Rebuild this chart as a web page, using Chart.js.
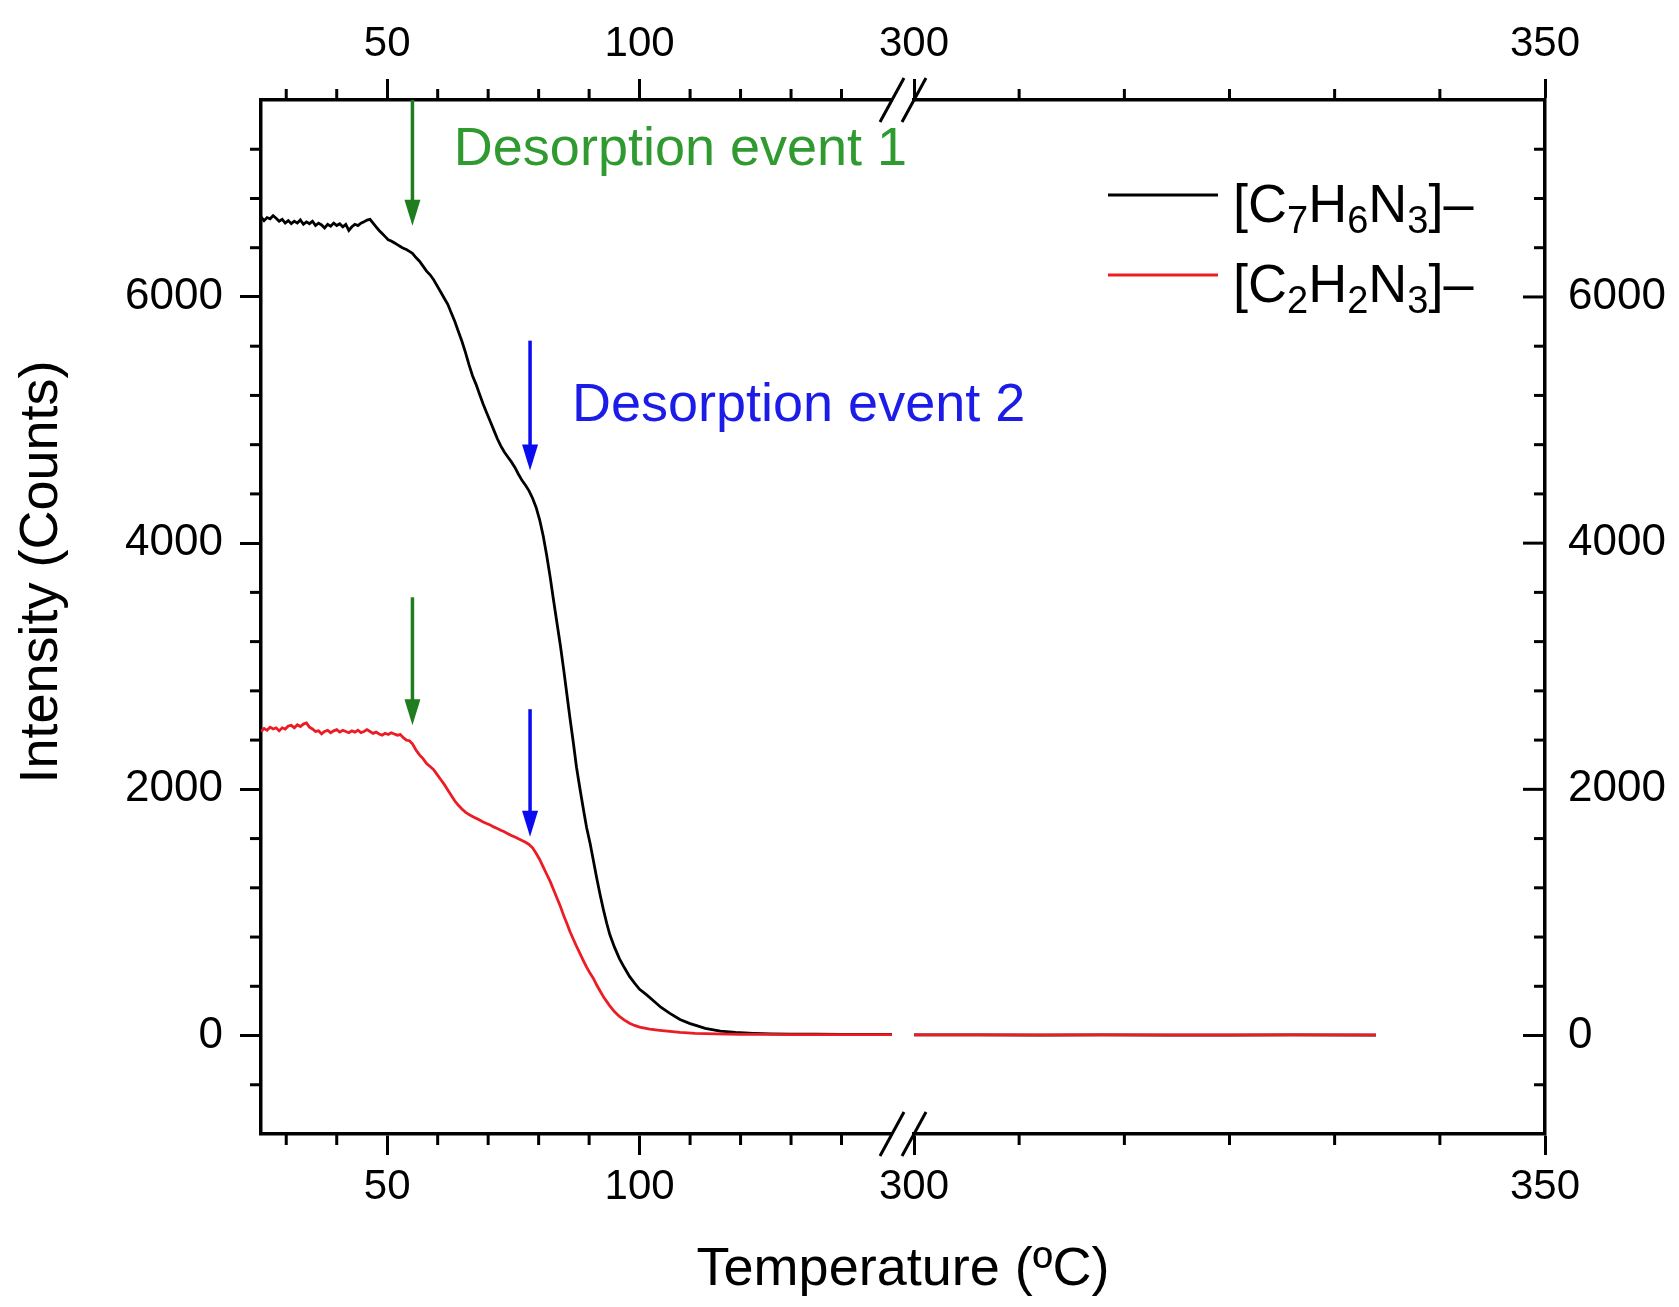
<!DOCTYPE html>
<html>
<head>
<meta charset="utf-8">
<script src="https://cdn.jsdelivr.net/npm/chart.js@4.4.1/dist/chart.umd.min.js"></script>
<style>
  html, body { margin: 0; padding: 0; background: #ffffff; overflow: hidden; }
  canvas { display: block; }
</style>
</head>
<body>
<canvas id="c" width="1679" height="1307"></canvas>
<script>
// ---------------- DATA ----------------
const X_TITLE = 'Temperature (ºC)';
const Y_TITLE = 'Intensity (Counts)';
const SERIES_LABELS = ['[C7H6N3]–', '[C2H2N3]–'];

const X_LOW_RANGE = [25, 150];
const X_HIGH_RANGE = [300, 350];
const Y_RANGE = [-800, 7600];

const X_LOW_MAJOR = [50, 100];
const X_LOW_MINOR = [30, 40, 60, 70, 80, 90, 110, 120, 130, 140];
const X_HIGH_MAJOR = [300, 350];
const X_HIGH_MINOR = [308.33, 316.67, 325, 333.33, 341.67];
const Y_MAJOR = [0, 2000, 4000, 6000];
const Y_MINOR = [-400, 400, 800, 1200, 1600, 2400, 2800, 3200, 3600, 4400, 4800, 5200, 5600, 6400, 6800, 7200];

// [C7H6N3]- , low-temperature segment
const T_C7_LOW = [25.0,25.6,26.2,26.8,27.4,28.0,28.6,29.2,29.8,30.4,31.0,31.6,32.2,32.8,33.4,34.0,34.6,35.2,35.8,36.4,37.0,37.6,38.2,38.8,39.4,40.0,40.6,41.2,41.8,42.4,43.0,43.6,44.2,44.8,45.4,46.0,46.6,47.2,47.8,48.4,49.0,49.6,50.2,50.8,51.4,52.0,52.6,53.2,53.8,54.4,55.0,
  55.7,56.4,57.1,57.8,58.5,59.2,59.9,60.6,61.3,62.0,62.7,63.4,64.1,64.8,65.5,66.2,66.9,67.6,68.3,69.0,69.7,70.4,71.1,71.8,72.5,73.2,73.9,74.6,75.3,76.0,76.7,77.4,78.1,78.8,79.5,80.2,80.9,81.6,82.3,82.9,83.6,84.3,85.0,85.6,86.2,86.9,87.5,88.2,88.9,89.5,90.2,90.9,91.5,92.2,92.9,93.5,94.1,95.0,96.0,97.0,98.0,99.0,100.0,101.4,102.8,104.2,106.0,108.0,110.0,111.3,113.0,116.0,119.0,122.5,126.0,130.0,135.0,140.0,145.0,150.0];
const I_C7_LOW = [6650,6620,6645,6635,6660,6640,6615,6630,6600,6620,6595,6615,6600,6625,6590,6610,6595,6615,6580,6600,6585,6560,6590,6575,6600,6580,6595,6570,6590,6540,6570,6590,6580,6600,6610,6625,6630,6600,6570,6540,6515,6490,6465,6455,6440,6425,6410,6395,6385,6370,6355,
  6320,6290,6250,6210,6180,6140,6090,6040,5990,5940,5870,5800,5720,5640,5550,5450,5360,5290,5210,5130,5060,4990,4920,4850,4790,4740,4700,4660,4615,4560,4510,4470,4425,4365,4290,4190,4060,3900,3720,3550,3360,3170,2960,2770,2580,2370,2180,2000,1830,1690,1560,1410,1280,1140,1010,910,820,720,625,550,480,425,375,330,280,230,180,130,97,80,58,36,25,18,14,12,11,10,9,9];

// [C2H2N3]- , low-temperature segment
const T_C2_LOW = [25.0,25.6,26.2,26.8,27.4,28.0,28.6,29.2,29.8,30.4,31.0,31.6,32.2,32.8,33.4,34.0,34.6,35.2,35.8,36.4,37.0,37.6,38.2,38.8,39.4,40.0,40.6,41.2,41.8,42.4,43.0,43.6,44.2,44.8,45.4,46.0,46.6,47.2,47.8,48.4,49.0,49.6,50.2,50.8,51.4,52.0,52.6,53.2,53.8,54.4,55.0,
  55.7,56.4,57.1,57.8,58.5,59.2,59.9,60.6,61.3,62.0,62.7,63.4,64.1,64.8,65.5,66.2,66.9,67.6,68.3,69.0,69.7,70.4,71.1,71.8,72.5,73.2,73.9,74.6,75.3,76.0,76.7,77.4,78.1,78.8,79.5,80.2,80.9,81.6,82.3,83.0,83.6,84.3,85.0,85.6,86.2,86.9,87.5,88.2,88.9,89.5,90.2,90.9,91.5,92.2,92.9,93.5,94.1,95.0,96.0,97.0,98.0,99.0,100.0,102.0,104.0,106.0,108.0,111.0,115.0,120.0,125.0,130.0,140.0,150.0];
const I_C2_LOW = [2470,2495,2480,2505,2490,2500,2475,2500,2490,2515,2520,2500,2525,2510,2530,2540,2505,2490,2470,2475,2450,2470,2480,2460,2475,2485,2465,2480,2470,2460,2475,2465,2480,2460,2470,2485,2470,2455,2465,2450,2440,2455,2445,2460,2450,2440,2445,2420,2400,2395,2370,
  2320,2280,2250,2210,2185,2160,2120,2080,2040,1995,1950,1905,1870,1840,1815,1795,1780,1765,1750,1735,1722,1710,1695,1682,1668,1655,1640,1625,1612,1598,1585,1570,1552,1525,1480,1430,1370,1310,1250,1180,1120,1050,970,910,845,780,725,665,605,555,505,460,410,360,310,275,240,195,155,125,100,82,68,52,42,33,25,18,13,10,9,8,7,7];

// high-temperature segment (after the axis break)
const T_HIGH = [300, 305, 310, 315, 320, 325, 330, 336.6];
const I_C7_HIGH = [5, 5, 4, 5, 4, 4, 5, 4];
const I_C2_HIGH = [6, 5, 6, 5, 5, 6, 5, 5];

// annotations (data coordinates)
const EVENT_LABELS = ['Desorption event 1', 'Desorption event 2'];
const EVENT_TEXT_T = [63.2, 86.6];
const EVENT_TEXT_I = [7075, 4992];
const ARROW_T = [55.0, 78.3, 55.0, 78.3];
const ARROW_FROM_I = [7600, 5645, 3560, 2651];
const ARROW_TO_I = [6579, 4590, 2520, 1614];
const ARROW_EVENT = [0, 1, 0, 1];

// ---------------- STYLE ----------------
const FONT_FAMILY = "'Liberation Sans', Arial, Helvetica, sans-serif";
const COL = {
  c7: '#000000', c2: '#ec1c24',
  eventText: ['#2f9a2f', '#1c1ce8'],
  eventArrow: ['#1f7d1f', '#0b0bf0']
};
const X_TICK_FONT = { family: FONT_FAMILY, size: 42 };
const Y_TICK_FONT = { family: FONT_FAMILY, size: 44 };
const MAJOR_LEN = 21, MINOR_LEN = 11, TICK_W = 3, AXIS_W = 3.5;
const SEG_WEIGHTS = [631, 22, 631];

function toXY(xs, ys) { return xs.map((x, i) => ({ x: x, y: ys[i] })); }

function segAxis(pos, stack, weight, range, major, height, pad) {
  return {
    type: 'linear', position: pos, stack: stack, stackWeight: weight,
    min: range[0], max: range[1],
    afterBuildTicks: s => { s.ticks = major.map(v => ({ value: v })); },
    afterFit: s => { s.height = height; },
    ticks: { display: true, autoSkip: false, maxRotation: 0, padding: pad, font: X_TICK_FONT, color: '#000', callback: v => String(v) },
    grid: { display: true, drawOnChartArea: false, drawTicks: true, tickLength: MAJOR_LEN, tickWidth: TICK_W, tickColor: '#000' },
    border: { display: true, width: AXIS_W, color: '#000' }
  };
}
function gapAxis(pos, stack, weight, height) {
  return {
    type: 'linear', position: pos, stack: stack, stackWeight: weight, min: 0, max: 1,
    afterFit: s => { s.height = height; },
    ticks: { display: false }, grid: { display: false }, border: { display: false }
  };
}

function drawFormula(ctx, text, x, y, size, subSize, subDy) {
  const runs = [];
  for (const ch of text) {
    const sub = /[0-9]/.test(ch);
    if (runs.length && runs[runs.length - 1].sub === sub) runs[runs.length - 1].t += ch;
    else runs.push({ t: ch, sub: sub });
  }
  let cx = x;
  for (const r of runs) {
    ctx.font = (r.sub ? subSize : size) + 'px ' + FONT_FAMILY;
    ctx.fillText(r.t, cx, y + (r.sub ? subDy : 0));
    cx += ctx.measureText(r.t).width;
  }
}

const decorPlugin = {
  id: 'decor',
  afterDraw(chart) {
    const { ctx, chartArea: ca, scales } = chart;
    const xL = scales.xL, xR = scales.xR, y = scales.y;
    ctx.save();
    ctx.lineCap = 'butt';
    ctx.strokeStyle = '#000';
    ctx.lineWidth = TICK_W;
    const seg = (x1, y1, x2, y2) => { ctx.beginPath(); ctx.moveTo(x1, y1); ctx.lineTo(x2, y2); ctx.stroke(); };
    // minor ticks (outward on left/top/bottom, inward on right)
    for (const v of X_LOW_MINOR) { const p = xL.getPixelForValue(v); seg(p, ca.bottom, p, ca.bottom + MINOR_LEN); seg(p, ca.top, p, ca.top - MINOR_LEN); }
    for (const v of X_HIGH_MINOR) { const p = xR.getPixelForValue(v); seg(p, ca.bottom, p, ca.bottom + MINOR_LEN); seg(p, ca.top, p, ca.top - MINOR_LEN); }
    for (const v of Y_MINOR) { const p = y.getPixelForValue(v); seg(ca.left, p, ca.left - MINOR_LEN, p); seg(ca.right, p, ca.right - MINOR_LEN, p); }
    for (const v of Y_MAJOR) { const p = scales.y2.getPixelForValue(v); seg(ca.right, p, ca.right - MAJOR_LEN - 1, p); }

    // axis break marks
    for (const ay of [ca.top, ca.bottom]) {
      for (const bx of [xL.right, xR.left]) {
        seg(bx - 12, ay + 22, bx + 12, ay - 22);
      }
    }

    // y axis title
    ctx.save();
    ctx.fillStyle = '#000';
    ctx.font = '54px ' + FONT_FAMILY;
    ctx.textAlign = 'center';
    ctx.textBaseline = 'middle';
    ctx.translate(42, ca.top + 0.4565 * (ca.bottom - ca.top));
    ctx.rotate(-Math.PI / 2);
    ctx.fillText(Y_TITLE, 0, 0);
    ctx.restore();

    // arrows
    for (let i = 0; i < ARROW_T.length; i++) {
      const px = xL.getPixelForValue(ARROW_T[i]);
      const p1 = y.getPixelForValue(ARROW_FROM_I[i]);
      const p2 = y.getPixelForValue(ARROW_TO_I[i]);
      const c = COL.eventArrow[ARROW_EVENT[i]];
      ctx.strokeStyle = c; ctx.fillStyle = c; ctx.lineWidth = 3.5;
      seg(px, p1, px, p2 - 20);
      ctx.beginPath();
      ctx.moveTo(px - 8, p2 - 26); ctx.lineTo(px + 8, p2 - 26); ctx.lineTo(px, p2); ctx.closePath(); ctx.fill();
    }
    // event labels
    ctx.textAlign = 'left'; ctx.textBaseline = 'alphabetic';
    ctx.font = '54px ' + FONT_FAMILY;
    for (let i = 0; i < EVENT_LABELS.length; i++) {
      ctx.fillStyle = COL.eventText[i];
      ctx.fillText(EVENT_LABELS[i], xL.getPixelForValue(EVENT_TEXT_T[i]), y.getPixelForValue(EVENT_TEXT_I[i]));
    }

    // legend
    const legendColors = [COL.c7, COL.c2];
    for (let i = 0; i < SERIES_LABELS.length; i++) {
      const ly = 195 + i * 80;
      ctx.strokeStyle = legendColors[i]; ctx.lineWidth = 2.8;
      seg(1108, ly, 1218, ly);
      ctx.fillStyle = '#000';
      drawFormula(ctx, SERIES_LABELS[i], 1233, ly + 27, 54, 38, 11);
    }
    ctx.restore();
  }
};

const datasets = [
  { label: SERIES_LABELS[1], data: toXY(T_C2_LOW, I_C2_LOW), xAxisID: 'xL', yAxisID: 'y', borderColor: COL.c2, order: 0 },
  { label: SERIES_LABELS[1], data: toXY(T_HIGH, I_C2_HIGH), xAxisID: 'xR', yAxisID: 'y', borderColor: COL.c2, order: 0 },
  { label: SERIES_LABELS[0], data: toXY(T_C7_LOW, I_C7_LOW), xAxisID: 'xL', yAxisID: 'y', borderColor: COL.c7, order: 1 },
  { label: SERIES_LABELS[0], data: toXY(T_HIGH, I_C7_HIGH), xAxisID: 'xR', yAxisID: 'y', borderColor: COL.c7, order: 1 }
].map(d => Object.assign(d, { borderWidth: 2.8, pointRadius: 0, tension: 0, fill: false }));

new Chart(document.getElementById('c'), {
  type: 'line',
  data: { datasets: datasets },
  options: {
    responsive: false,
    animation: false,
    devicePixelRatio: 1,
    layout: { padding: 0 },
    plugins: { legend: { display: false }, tooltip: { enabled: false }, title: { display: false } },
    scales: {
      xL: segAxis('bottom', 'xbot', SEG_WEIGHTS[0], X_LOW_RANGE, X_LOW_MAJOR, 90, 7),
      xG: gapAxis('bottom', 'xbot', SEG_WEIGHTS[1], 90),
      xR: segAxis('bottom', 'xbot', SEG_WEIGHTS[2], X_HIGH_RANGE, X_HIGH_MAJOR, 90, 7),
      xTitle: {
        type: 'linear', position: 'bottom', weight: 1, min: 0, max: 1,
        afterFit: s => { s.height = 83; },
        ticks: { display: false }, grid: { display: false }, border: { display: false },
        title: { display: true, text: X_TITLE, color: '#000', font: { family: FONT_FAMILY, size: 54 }, padding: { top: 0, bottom: 4 } }
      },
      // top stack is laid out in reverse definition order, so define right-to-left
      xRt: segAxis('top', 'xtop', SEG_WEIGHTS[2], X_HIGH_RANGE, X_HIGH_MAJOR, 100, 9),
      xGt: gapAxis('top', 'xtop', SEG_WEIGHTS[1], 100),
      xLt: segAxis('top', 'xtop', SEG_WEIGHTS[0], X_LOW_RANGE, X_LOW_MAJOR, 100, 9),
      y: {
        type: 'linear', position: 'left', min: Y_RANGE[0], max: Y_RANGE[1],
        afterBuildTicks: s => { s.ticks = Y_MAJOR.map(v => ({ value: v })); },
        afterFit: s => { s.width = 261; },
        ticks: { autoSkip: false, padding: 17, font: Y_TICK_FONT, color: '#000', callback: v => String(v) },
        grid: { display: true, drawOnChartArea: false, drawTicks: true, tickLength: MAJOR_LEN, tickWidth: TICK_W, tickColor: '#000' },
        border: { display: true, width: AXIS_W, color: '#000' }
      },
      y2: {
        type: 'linear', position: 'right', min: Y_RANGE[0], max: Y_RANGE[1],
        afterBuildTicks: s => { s.ticks = Y_MAJOR.map(v => ({ value: v })); },
        afterFit: s => { s.width = 134; },
        ticks: { autoSkip: false, padding: 23, font: Y_TICK_FONT, color: '#000', callback: v => String(v) },
        grid: { display: true, drawOnChartArea: false, drawTicks: false },
        border: { display: true, width: AXIS_W, color: '#000' }
      }
    }
  },
  plugins: [decorPlugin]
});
</script>
</body>
</html>
